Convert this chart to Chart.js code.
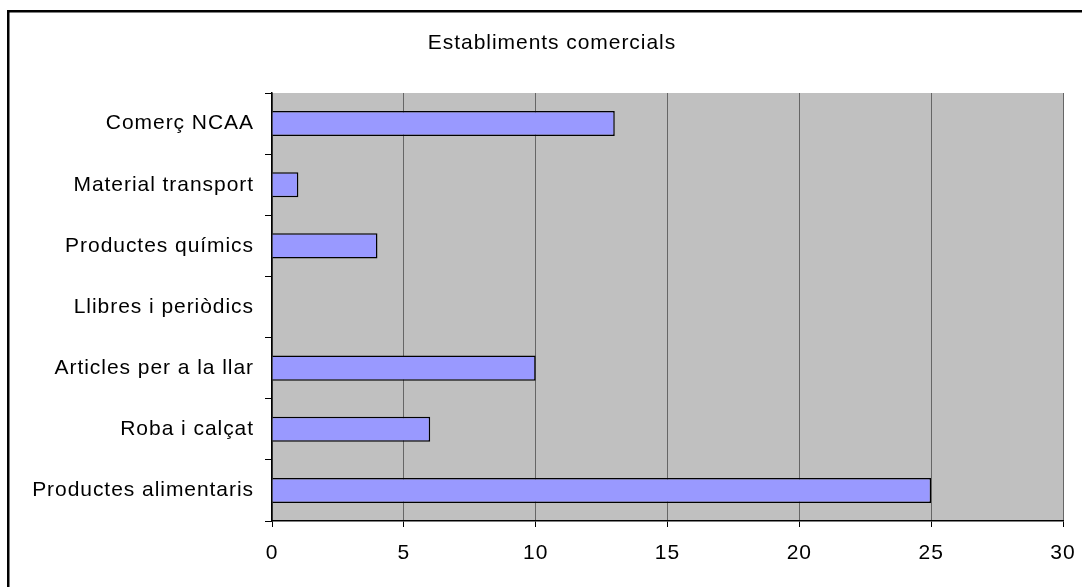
<!DOCTYPE html>
<html>
<head>
<meta charset="utf-8">
<script src="https://cdn.jsdelivr.net/npm/chart.js@4/dist/chart.umd.min.js"></script>
<style>
html,body{margin:0;padding:0;background:#fff;}
#wrap{width:1082px;height:587px;position:relative;}
</style>
</head>
<body>
<div id="wrap"><canvas id="c" width="1082" height="587"></canvas></div>
<script>
const chartTitle = "Establiments comercials";
const categories = ["Comerç NCAA", "Material transport", "Productes químics", "Llibres i periòdics", "Articles per a la llar", "Roba i calçat", "Productes alimentaris"];
const values = [13, 1, 4, 0, 10, 6, 25];
const xTicks = [0, 5, 10, 15, 20, 25, 30];

const FONT = "'Liberation Sans', Arial, sans-serif";
const FSIZE = 21;
const SPACING = '0.95px';

const spacingPlugin = {
  id: 'spacing',
  beforeUpdate(chart){ chart.ctx.letterSpacing = SPACING; },
  beforeLayout(chart){ chart.ctx.letterSpacing = SPACING; },
  beforeDraw(chart){
    const ctx = chart.ctx;
    ctx.letterSpacing = SPACING;
    const a = chart.chartArea;
    ctx.save();
    ctx.fillStyle = '#ffffff';
    ctx.fillRect(0, 0, chart.width, chart.height);
    ctx.fillStyle = '#c0c0c0';
    ctx.fillRect(a.left, a.top, a.right - a.left, a.bottom - a.top);
    ctx.restore();
  },
  afterDraw(chart){
    const ctx = chart.ctx;
    ctx.save();
    ctx.letterSpacing = SPACING;
    ctx.fillStyle = '#000';
    ctx.font = FSIZE + 'px ' + FONT;
    ctx.textAlign = 'center';
    ctx.textBaseline = 'middle';
    ctx.fillText(chartTitle, 552, 43);
    ctx.strokeStyle = '#000';
    ctx.lineWidth = 2.5;
    ctx.strokeRect(8.25, 11.25, 1200, 800);
    ctx.restore();
  }
};

new Chart(document.getElementById('c'), {
  type: 'bar',
  data: {
    labels: categories,
    datasets: [{
      data: values,
      backgroundColor: '#9999ff',
      borderColor: '#000000',
      borderWidth: 1.5,
      categoryPercentage: 1,
      barPercentage: 0.41
    }]
  },
  options: {
    indexAxis: 'y',
    responsive: false,
    animation: false,
    devicePixelRatio: 1,
    layout: { padding: { left: 0, top: 93, right: 19, bottom: 0 } },
    plugins: { legend: { display: false }, title: { display: false }, tooltip: { enabled: false } },
    scales: {
      x: {
        min: 0, max: 30,
        afterBuildTicks(s){ s.ticks = xTicks.map(v => ({ value: v })); },
        afterFit(s){ s.height = 66; s.paddingRight = 0; s.paddingLeft = 0; },
        ticks: { color: '#000', font: { family: FONT, size: FSIZE }, padding: 14, maxRotation: 0 },
        grid: { color: '#666666', lineWidth: 1, tickColor: '#000', tickLength: 6 },
        border: { display: true, color: '#000', width: 1.5 }
      },
      y: {
        afterFit(s){ s.width = 272; s.paddingTop = 0; s.paddingBottom = 0; },
        ticks: { color: '#000', font: { family: FONT, size: FSIZE }, padding: 11 },
        grid: { offset: true, drawOnChartArea: false, tickColor: '#000', tickLength: 7, lineWidth: 1 },
        border: { display: true, color: '#000', width: 1.5 }
      }
    }
  },
  plugins: [spacingPlugin]
});
</script>
</body>
</html>
